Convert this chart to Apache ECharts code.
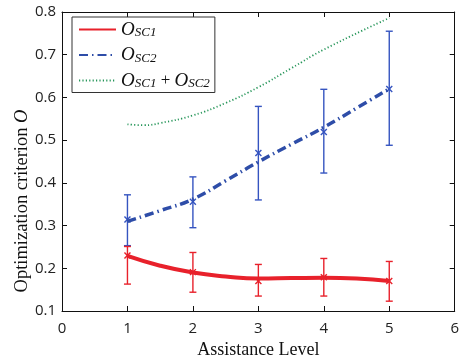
<!DOCTYPE html>
<html><head><meta charset="utf-8">
<script src="https://cdn.jsdelivr.net/npm/echarts@6/dist/echarts.min.js"></script>
<style>html,body{margin:0;padding:0;background:#fff}#c{width:462px;height:364px}</style>
</head><body><div id="c"></div>
<script>
// Measured points (assistance level)
var levels = [1, 2, 3, 4, 5];
// O_SC1 measurements: mean, upper, lower
var sc1Mean = [0.230, 0.191, 0.170, 0.179, 0.170];
var sc1Upper = [0.251, 0.237, 0.209, 0.223, 0.216];
var sc1Lower = [0.163, 0.144, 0.135, 0.135, 0.123];
// O_SC2 measurements
var sc2Mean = [0.314, 0.356, 0.470, 0.519, 0.620];
var sc2Upper = [0.372, 0.414, 0.579, 0.619, 0.755];
var sc2Lower = [0.253, 0.295, 0.360, 0.423, 0.488];
// Fitted curves
var curveX = [1, 1.5, 2, 2.5, 3, 3.5, 4, 4.5, 5];
var sc1Curve = [0.229, 0.206, 0.190, 0.181, 0.176, 0.177, 0.178, 0.176, 0.170];
var sc2Curve = [0.310, 0.335, 0.362, 0.405, 0.449, 0.490, 0.530, 0.575, 0.620];
var sumCurve = [0.537, 0.535, 0.540, 0.558, 0.587, 0.624, 0.668, 0.712, 0.786];
var sumCurveX = [1, 1.25, 1.5, 2, 2.5, 3, 3.5, 4, 5];
var xTicks = [0, 1, 2, 3, 4, 5, 6];
var yTicks = [0.1, 0.2, 0.3, 0.4, 0.5, 0.6, 0.7, 0.8];

var RED = '#e8212b', BLUE = '#2e4da8', BLUE_EB = '#3554c0', GREEN = '#27965a';

function pairs(xs, ys){ return xs.map(function(x,i){ return [x, ys[i]]; }); }
function ebData(m, u, l){ return levels.map(function(x,i){ return [x, m[i], u[i], l[i]]; }); }

function ebRender(color){
  return function(params, api){
    var x = api.value(0);
    var pm = api.coord([x, api.value(1)]);
    var pu = api.coord([x, api.value(2)]);
    var pl = api.coord([x, api.value(3)]);
    var cw = 3.5, m = 3;
    var st = {stroke: color, lineWidth: 1.4, fill: null};
    return {type: 'group', children: [
      {type:'line', shape:{x1:pu[0], y1:pu[1], x2:pl[0], y2:pl[1]}, style: st},
      {type:'line', shape:{x1:pu[0]-cw, y1:pu[1], x2:pu[0]+cw, y2:pu[1]}, style: st},
      {type:'line', shape:{x1:pl[0]-cw, y1:pl[1], x2:pl[0]+cw, y2:pl[1]}, style: st},
      {type:'line', shape:{x1:pm[0]-m, y1:pm[1]-m, x2:pm[0]+m, y2:pm[1]+m}, style: st},
      {type:'line', shape:{x1:pm[0]-m, y1:pm[1]+m, x2:pm[0]+m, y2:pm[1]-m}, style: st}
    ]};
  };
}

var legendFmt = {
  'OSC1': '{o|O}{s|SC1}',
  'OSC2': '{o|O}{s|SC2}',
  'SUM': '{o|O}{s|SC1}{p| + }{o|O}{s|SC2}'
};
var serif = '"Liberation Serif", "DejaVu Serif", serif';

var chart = echarts.init(document.getElementById('c'));
chart.setOption({
  animation: false,
  grid: {left: 62, right: 4, top: 12, bottom: 51, show: false},
  legend: {
    left: 72, top: 17, orient: 'vertical',
    padding: [3, 5, 2, 6],
    borderColor: '#333', borderWidth: 1, backgroundColor: '#fff',
    itemWidth: 37, itemHeight: 14, itemGap: 6,
    itemStyle: {opacity: 0},
    data: ['OSC1', 'OSC2', 'SUM'],
    formatter: function(n){ return legendFmt[n]; },
    textStyle: {
      fontFamily: serif, color: '#111',
      rich: {
        o: {fontFamily: serif, fontStyle: 'italic', fontSize: 19, color: '#111'},
        s: {fontFamily: serif, fontStyle: 'italic', fontSize: 13, color: '#111', padding: [7,0,0,0]},
        p: {fontFamily: serif, fontSize: 17, color: '#111'}
      }
    }
  },
  graphic: [{
    type: 'text', x: 22, y: 201, rotation: Math.PI / 2, silent: true,
    style: {
      text: '{t|Optimization criterion }{i|O}', align: 'center', verticalAlign: 'middle',
      rich: {t: {fontFamily: serif, fontSize: 18.5, fill: '#111'}, i: {fontFamily: serif, fontSize: 18.5, fontStyle: 'italic', fill: '#111'}}
    }
  }],
  xAxis: [{
    type: 'value', min: 0, max: 6, interval: 1,
    axisLine: {show: true, onZero: false, lineStyle: {color: '#111', width: 1}},
    axisTick: {show: true, inside: true, length: 5, lineStyle: {color: '#111'}},
    axisLabel: {color: '#222', fontSize: 15, margin: 10, fontFamily: '"Open Sans", sans-serif'},
    splitLine: {show: false},
    name: 'Assistance Level', nameLocation: 'middle', nameGap: 30,
    nameTextStyle: {fontFamily: serif, fontSize: 18, color: '#111'}
  }, {
    type: 'value', min: 0, max: 6, interval: 1, position: 'top',
    axisLine: {show: true, onZero: false, lineStyle: {color: '#111', width: 1}},
    axisTick: {show: true, inside: true, length: 5, lineStyle: {color: '#111'}},
    axisLabel: {show: false}, splitLine: {show: false}
  }],
  yAxis: [{
    type: 'value', min: 0.1, max: 0.8, interval: 0.1,
    axisLine: {show: true, onZero: false, lineStyle: {color: '#111', width: 1}},
    axisTick: {show: true, inside: true, length: 5, lineStyle: {color: '#111'}},
    axisLabel: {color: '#222', fontSize: 15, margin: 6, fontFamily: '"Open Sans", sans-serif',
      formatter: function(v){ return v.toFixed(1); }},
    splitLine: {show: false}
  }, {
    type: 'value', min: 0.1, max: 0.8, interval: 0.1, position: 'right',
    axisLine: {show: true, onZero: false, lineStyle: {color: '#111', width: 1}},
    axisTick: {show: true, inside: true, length: 5, lineStyle: {color: '#111'}},
    axisLabel: {show: false}, splitLine: {show: false}
  }],
  series: [
    {name: 'SUM', type: 'line', smooth: true, symbol: 'none', data: pairs(sumCurveX, sumCurve),
     lineStyle: {color: GREEN, width: 1.8, type: [1.2, 2.2]}, itemStyle: {color: GREEN}, z: 2},
    {type: 'custom', renderItem: ebRender(BLUE_EB), data: ebData(sc2Mean, sc2Upper, sc2Lower), z: 3, silent: true},
    {name: 'OSC2', type: 'line', smooth: true, symbol: 'none', data: pairs(curveX, sc2Curve),
     lineStyle: {color: BLUE, width: 3.5, type: [9, 4, 1.5, 4]}, itemStyle: {color: BLUE}, z: 4},
    {type: 'custom', renderItem: ebRender(RED), data: ebData(sc1Mean, sc1Upper, sc1Lower), z: 5, silent: true},
    {name: 'OSC1', type: 'line', smooth: true, symbol: 'none', data: pairs(curveX, sc1Curve),
     lineStyle: {color: RED, width: 4}, itemStyle: {color: RED}, z: 6}
  ]
});
</script></body></html>
